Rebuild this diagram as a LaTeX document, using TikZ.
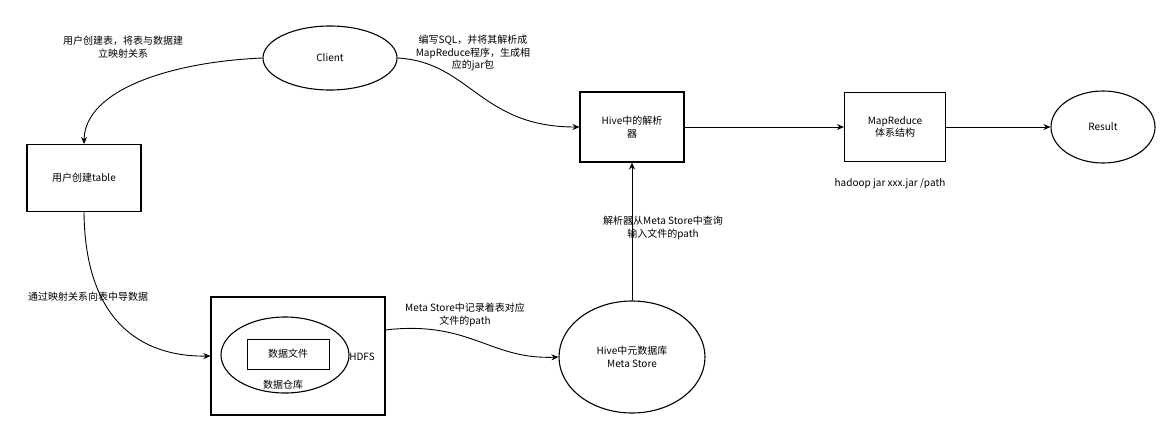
\documentclass[tikz,border=0pt]{standalone}
\usepackage{fontspec}
\setmainfont{Noto Sans CJK SC}
\usetikzlibrary{shapes.geometric,arrows.meta}
\begin{document}
\begin{tikzpicture}[x=1pt,y=-1pt,font=\fontsize{10}{12.5}\selectfont,
  box/.style={draw,line width=1.1pt,align=center,inner sep=0},
  oval/.style={draw,line width=1.1pt,ellipse,align=center,inner sep=0},
  lbl/.style={align=center,inner sep=0},
  arr/.style={-{Stealth[length=7pt,width=6pt]},line width=0.9pt}]
\useasboundingbox[fill=white] (0,0) rectangle (1169,442);
\node[oval,minimum width=134,minimum height=64] (client) at (330,58) {Client};
\node[lbl] (t1) at (123,47) {用户创建表，将表与数据建\\立映射关系};
\node[box,minimum width=114,minimum height=67] (table) at (84,178) {用户创建table};
\node[box,minimum width=104,minimum height=70] (parser) at (632,127) {Hive中的解析\\器};
\node[box,minimum width=101,minimum height=69] (mr) at (895,127) {MapReduce\\体系结构};
\node[oval,minimum width=104,minimum height=72] (res) at (1103,127) {Result};
\node[lbl] (t2) at (890,184) {hadoop jar xxx.jar /path};
\node[lbl] (t3) at (473,53) {编写SQL，并将其解析成\\MapReduce程序，生成相\\应的jar包};
\node[lbl] (t4) at (663,228) {解析器从Meta Store中查询\\输入文件的path};
\node[lbl] (t5) at (88,297) {通过映射关系向表中导数据};
\node[box,minimum width=174,minimum height=118] (hdfs) at (298,356) {};
\node[oval,minimum width=128,minimum height=76] (wh) at (285,355) {};
\node[box,line width=0.9pt,minimum width=82,minimum height=30] (file) at (288,354) {数据文件};
\node[lbl] (t6) at (362,357) {HDFS};
\node[lbl] (t7) at (283,385) {数据仓库};
\node[lbl] (t8) at (465,315) {Meta Store中记录着表对应\\文件的path};
\node[oval,minimum width=146,minimum height=112] (meta) at (632,357) {Hive中元数据库\\Meta Store};
\draw[arr] (client.east) .. controls (470,62) and (480,127) .. (parser.west);
\draw[arr] (client.west) .. controls (170,62) and (85,90) .. (table.north);
\draw[arr] (table.south) .. controls (85,320) and (140,357) .. (hdfs.west);
\draw[arr] (385,330) .. controls (470,320) and (490,360) .. (meta.west);
\draw[arr] (meta.north) -- (parser.south);
\draw[arr] (parser.east) -- (mr.west);
\draw[arr] (mr.east) -- (res.west);
\end{tikzpicture}
\end{document}
